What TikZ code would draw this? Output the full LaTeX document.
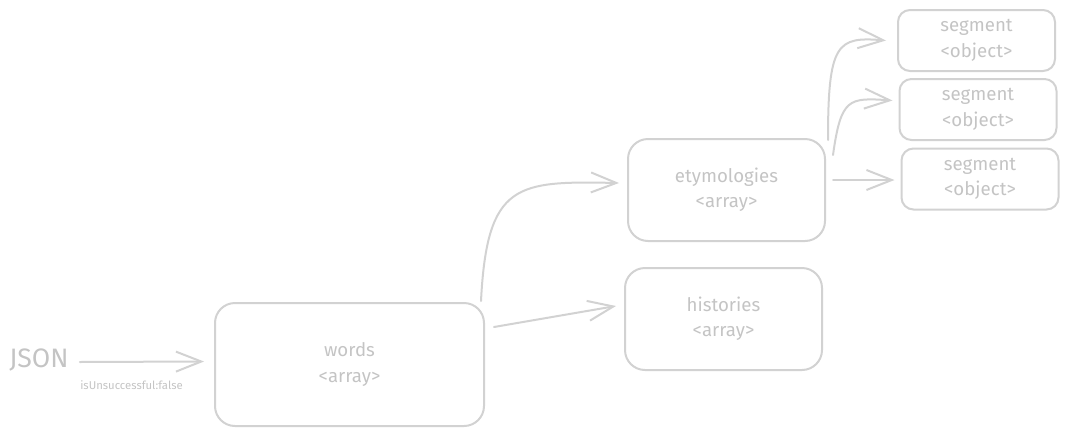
\documentclass[tikz,border=0pt]{standalone}
\usepackage{fontspec}
\setmainfont{Fira Sans}
\usetikzlibrary{arrows.meta,calc}
\definecolor{ln}{HTML}{D2D2D2}
\definecolor{tx}{HTML}{C4C4C4}
\tikzset{
  box/.style={draw=ln, line width=1.5pt, rounded corners=15pt, text=tx, align=center,
    font=\fontsize{14}{19}\selectfont},
  sbox/.style={box, rounded corners=9pt, minimum width=117.75pt, minimum height=45.75pt},
  conn/.style={draw=ln, line width=1.5pt, line cap=round,
    -{Straight Barb[length=19pt,width=15pt,line width=1.5pt]}},
}
\begin{document}
\begin{tikzpicture}[x=0.75pt,y=-0.75pt]
\useasboundingbox (0,0) rectangle (1068,436);
\node[box, minimum width=201.75pt, minimum height=92.25pt] (words) at (349.5,364.5) {words\\<array>};
\node[box, minimum width=147.75pt, minimum height=76.5pt] (etym) at (726.5,190) {etymologies\\<array>};
\node[box, minimum width=147.75pt, minimum height=76.5pt] (hist) at (723.5,319) {histories\\<array>};
\node[sbox] (s1) at (976.5,40.5) {segment\\<object>};
\node[sbox] (s2) at (978,109.5) {segment\\<object>};
\node[sbox] (s3) at (980,179) {segment\\<object>};
\node[text=tx, font=\fontsize{20}{22}\selectfont, anchor=west, inner sep=0pt] (json) at (9,360) {JSON};
\node[text=tx, font=\fontsize{8.5}{10}\selectfont, anchor=west, inner sep=0pt] (lbl) at (80,385) {isUnsuccessful:false};
\draw[conn] ($(json.east)+(11,2)$) -- ($(words.west)+(-10,-3)$);
\draw[conn] ($(words.north east)+(-4,-1)$) .. controls ($(words.north east)+(2,-120)$) and ($(etym.west)+(-110,-9)$) .. ($(etym.west)+(-8,-7)$);
\draw[conn] ($(words.north east)+(9,25)$) -- ($(hist.west)+(-8,-13)$);
\draw[conn] ($(etym.north east)+(2,2)$) .. controls ($(etym.north east)+(2,-95)$) and ($(s1.west)+(-60,-4)$) .. ($(s1.west)+(-11,0)$);
\draw[conn] ($(etym.north east)+(7,17)$) .. controls ($(etym.north east)+(15,-40)$) and ($(s2.west)+(-50,-12)$) .. ($(s2.west)+(-6,-9)$);
\draw[conn] ($(etym.east)+(7,-10)$) -- ($(s3.west)+(-6,1)$);
\end{tikzpicture}
\end{document}
